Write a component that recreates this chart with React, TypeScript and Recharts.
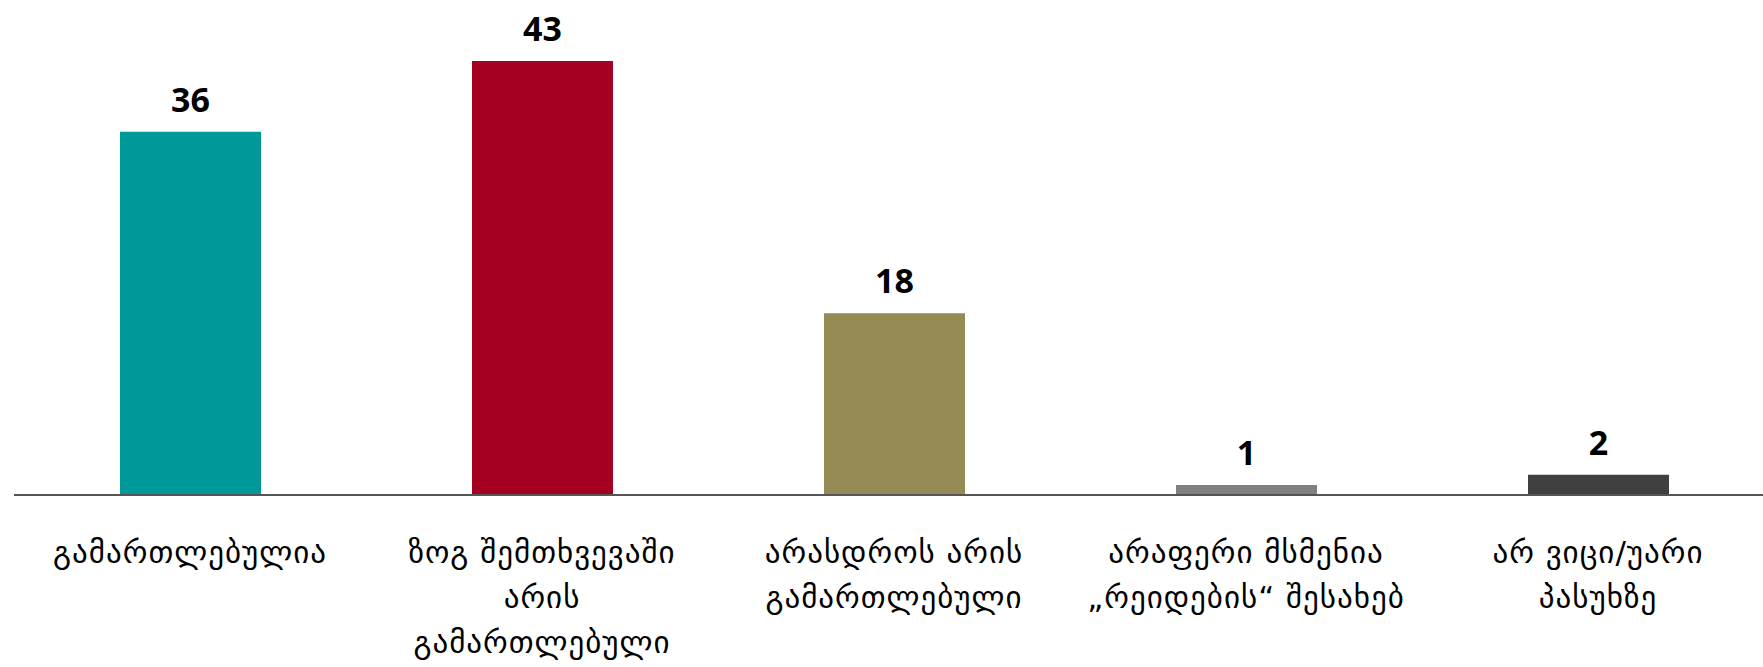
import { BarChart, Bar, XAxis, YAxis, Cell, LabelList } from 'recharts';

const categories = [
  'გამართლებულია',
  'ზოგ შემთხვევაში არის გამართლებული',
  'არასდროს არის გამართლებული',
  'არაფერი მსმენია „რეიდების“ შესახებ',
  'არ ვიცი/უარი პასუხზე',
];

const tickLines = [
  ['გამართლებულია'],
  ['ზოგ შემთხვევაში', 'არის', 'გამართლებული'],
  ['არასდროს არის', 'გამართლებული'],
  ['არაფერი მსმენია', '„რეიდების“ შესახებ'],
  ['არ ვიცი/უარი', 'პასუხზე'],
];

const values = [36, 43, 18, 1, 2];

const colors = ['#009999', '#A50021', '#948A54', '#808080', '#404040'];

const data = categories.map((name, i) => ({ name, value: values[i] }));

const CategoryTick = (props: any) => {
  const { x, y, index } = props;
  const lines = tickLines[index] || [];
  return (
    <text
      x={x}
      y={y}
      textAnchor='middle'
      fill='#000'
      fontFamily='"DejaVu Sans", sans-serif'
      fontSize={31}
      letterSpacing={1}
    >
      {lines.map((line: string, i: number) => (
        <tspan key={i} x={x} dy={i === 0 ? 60 : 45}>
          {line}
        </tspan>
      ))}
    </text>
  );
};

const App = () => {
  return (
    <div
      style={{
        position: 'absolute',
        left: 0,
        top: 0,
        width: 1763,
        height: 667,
        overflow: 'hidden',
        background: '#fff',
      }}
    >
      <BarChart
        width={1775}
        height={667}
        data={data}
        margin={{ top: 61, right: 1, left: 14, bottom: 0 }}
        barCategoryGap={0}
      >
        <XAxis
          dataKey='name'
          axisLine={{ stroke: '#555', strokeWidth: 2 }}
          tickLine={false}
          interval={0}
          height={172}
          tick={<CategoryTick />}
        />
        <YAxis hide domain={[0, 43]} />
        <Bar dataKey='value' barSize={141} isAnimationActive={false}>
          {data.map((_, i) => (
            <Cell key={i} fill={colors[i]} />
          ))}
          <LabelList
            dataKey='value'
            position='top'
            offset={20}
            fill='#000'
            fontSize={34}
            fontWeight='bold'
            fontFamily='"Liberation Sans Narrow", "Open Sans", sans-serif'
          />
        </Bar>
      </BarChart>
    </div>
  );
};

export default App;
